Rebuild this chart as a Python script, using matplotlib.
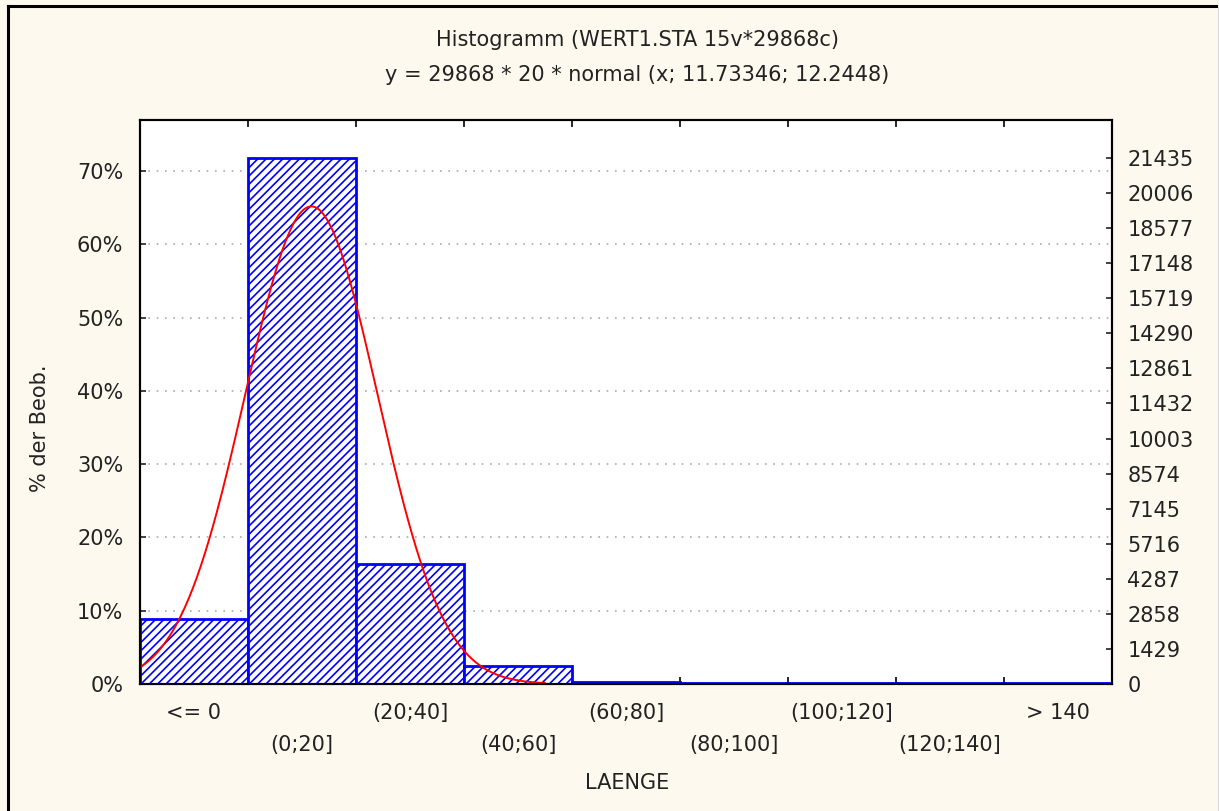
import numpy as np
import matplotlib.pyplot as plt
from matplotlib.lines import Line2D

# histogram data (percent of observations per class)
categories = ['<= 0', '(0;20]', '(20;40]', '(40;60]', '(60;80]',
              '(80;100]', '(100;120]', '(120;140]', '> 140']
percent = [8.87, 71.77, 16.40, 2.50, 0.22, 0.15, 0.12, 0.12, 0.15]

# fitted normal curve parameters from the title
n_obs = 29868
bin_width = 20
mean = 11.73346
sd = 12.2448
first_center = -10          # centre of the "<= 0" class
curve_range = (-20, 55)

count_ticks = [1429 * k for k in range(16)]
pct_ticks = list(range(0, 80, 10))

plt.rcParams['font.family'] = ['DejaVu Sans']
plt.rcParams['hatch.linewidth'] = 1.2
plt.rcParams['hatch.color'] = '#0000FF'

W, H = 1219, 811
bg = '#FEF9EE'
fs = 15
txt = '#222222'
fig = plt.figure(figsize=(W / 100, H / 100), dpi=100, facecolor=bg)

# frame around the figure
fig.add_artist(Line2D([8 / W, 8 / W], [0, 1 - 6 / H], transform=fig.transFigure, color='black', lw=2.2))
fig.add_artist(Line2D([8 / W, 1216 / W], [1 - 6 / H, 1 - 6 / H], transform=fig.transFigure, color='black', lw=2.2))
fig.add_artist(Line2D([1218 / W, 1218 / W], [0, 1 - 7 / H], transform=fig.transFigure, color='#DADADA', lw=0.8))

left, right, top, bottom = 140, 1112, 120, 684
ax = fig.add_axes([left / W, 1 - bottom / H, (right - left) / W, (bottom - top) / H])
ax.set_facecolor('white')

ymax = 76.95
idx = np.arange(len(categories))
ax.bar(idx, percent, width=1.0, facecolor='white', edgecolor='#0000FF',
       hatch='////', linewidth=2, zorder=2)

# normal curve, converted to percent and to class index coordinates
xs = np.linspace(curve_range[0], curve_range[1], 300)
pdf = np.exp(-0.5 * ((xs - mean) / sd) ** 2) / (sd * np.sqrt(2 * np.pi))
ax.plot((xs - first_center) / bin_width, 100 * bin_width * pdf, color='#FF0000', lw=1.4, zorder=3)

ax.set_xlim(-0.5, len(categories) - 0.5)
ax.set_ylim(0, ymax)

ax.set_yticks(pct_ticks)
ax.set_yticklabels([f'{p}%' for p in pct_ticks])
ax.yaxis.grid(True, linestyle=(0, (1, 4)), color='#AAAAAA', lw=1.2, zorder=0)
ax.set_axisbelow(True)
ax.tick_params(axis='y', direction='in', length=4, width=1.2, labelsize=fs, pad=12, colors=txt)

# tick marks at class boundaries, labels at class centres (staggered)
ax.set_xticks(np.arange(0.5, len(categories) - 0.5, 1))
ax.set_xticklabels([])
ax.tick_params(axis='x', which='major', direction='in', length=5, width=1.2, top=True)
ax.set_xticks(idx, minor=True)
ax.set_xticklabels([c if i % 2 == 0 else '\n' + c for i, c in enumerate(categories)], minor=True)
ax.tick_params(axis='x', which='minor', length=0, labelsize=fs, pad=14, colors=txt)
for t in ax.xaxis.get_minorticklabels():
    t.set_linespacing(1.75)

for s in ax.spines.values():
    s.set_linewidth(1.5)

ax2 = ax.twinx()
ax2.set_ylim(0, ymax * n_obs / 100)
ax2.set_yticks(count_ticks)
ax2.set_yticklabels([str(c) for c in count_ticks])
ax2.tick_params(axis='y', direction='in', length=4, width=1.2, labelsize=fs, pad=11, colors=txt)
for s in ax2.spines.values():
    s.set_linewidth(1.5)

fig.text(637 / W, 1 - 40 / H, 'Histogramm (WERT1.STA 15v*29868c)', ha='center', va='center',
         fontsize=fs, color=txt)
fig.text(637 / W, 1 - 75 / H, 'y = 29868 * 20 * normal (x; 11.73346; 12.2448)', ha='center', va='center',
         fontsize=fs, color=txt)
fig.text(627 / W, 1 - 783 / H, 'LAENGE', ha='center', va='center', fontsize=fs, color=txt)
fig.text(40 / W, 1 - 428 / H, '% der Beob.', ha='center', va='center', rotation=90,
         fontsize=fs, color=txt)

fig.savefig('out.png', dpi=100, facecolor=bg)
